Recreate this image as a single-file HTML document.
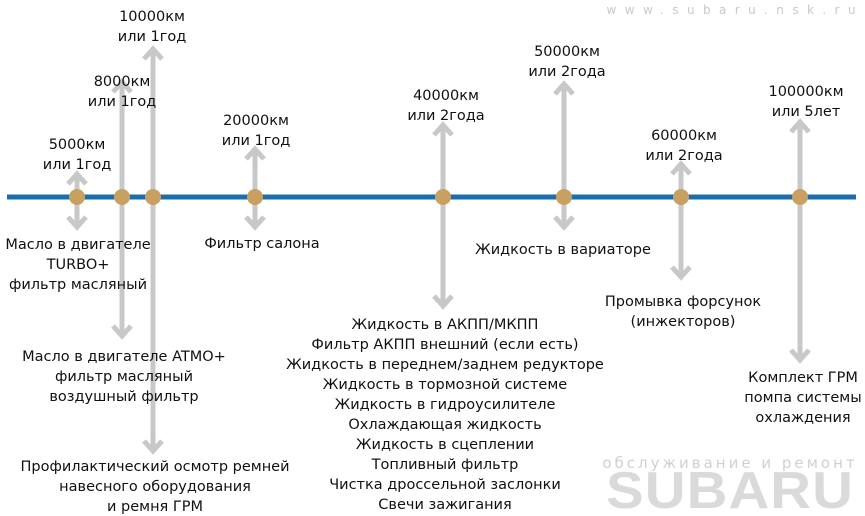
<!DOCTYPE html>
<html><head><meta charset="utf-8"><style>
html,body{margin:0;padding:0;background:#fff;}
svg{display:block}
text{font-family:"DejaVu Sans","Liberation Sans",sans-serif;font-size:14.5px;fill:#111;text-anchor:middle}
</style></head><body>
<svg width="865" height="516" viewBox="0 0 865 516" xmlns="http://www.w3.org/2000/svg">
<text x="731" y="14" style="font-size:12px;fill:#c8c8c8" textLength="249" lengthAdjust="spacing">www.subaru.nsk.ru</text>
<text x="730" y="468" style="font-size:15px;fill:#d0d0d0;letter-spacing:3px">обслуживание и ремонт</text>
<text x="730" y="508" style="font-family:'Liberation Sans',sans-serif;font-size:52px;font-weight:bold;fill:#dadada;letter-spacing:1px" textLength="248" lengthAdjust="spacingAndGlyphs">SUBARU</text>
<g stroke="#c8c8c8" stroke-width="5" fill="none" stroke-linecap="butt">
<path d="M77 197V174M68 184L77 174L86 184"/>
<path d="M122 197V82M113 92L122 82L131 92"/>
<path d="M153 197V49M144 59L153 49L162 59"/>
<path d="M255 197V149M246 159L255 149L264 159"/>
<path d="M443 197V125M434 135L443 125L452 135"/>
<path d="M564 197V84M555 94L564 84L573 94"/>
<path d="M681 197V164M672 174L681 164L690 174"/>
<path d="M800 197V122M791 132L800 122L809 132"/>
<path d="M77 197V227M68 217L77 227L86 217"/>
<path d="M122 197V336M113 326L122 336L131 326"/>
<path d="M153 197V451M144 441L153 451L162 441"/>
<path d="M255 197V227M246 217L255 227L264 217"/>
<path d="M443 197V306M434 296L443 306L452 296"/>
<path d="M564 197V227M555 217L564 227L573 217"/>
<path d="M681 197V277M672 267L681 277L690 267"/>
<path d="M800 197V360M791 350L800 360L809 350"/>
</g>
<line x1="7" y1="197" x2="856" y2="197" stroke="#1a6eae" stroke-width="5"/>
<g fill="#c8a060">
<circle cx="77" cy="197" r="8"/><circle cx="122" cy="197" r="8"/><circle cx="153" cy="197" r="8"/><circle cx="255" cy="197" r="8"/><circle cx="443" cy="197" r="8"/><circle cx="564" cy="197" r="8"/><circle cx="681" cy="197" r="8"/><circle cx="800" cy="197" r="8"/>
</g>
<text x="77" y="149">5000км</text><text x="77" y="169">или 1год</text>
<text x="122" y="86">8000км</text><text x="122" y="106">или 1год</text>
<text x="152" y="21">10000км</text><text x="152" y="41">или 1год</text>
<text x="256" y="125">20000км</text><text x="256" y="145">или 1год</text>
<text x="446" y="100">40000км</text><text x="446" y="120">или 2года</text>
<text x="567" y="56">50000км</text><text x="567" y="76">или 2года</text>
<text x="684" y="140">60000км</text><text x="684" y="160">или 2года</text>
<text x="806" y="96">100000км</text><text x="806" y="116">или 5лет</text>

<text x="78" y="249">Масло в двигателе</text><text x="78" y="269">TURBO+</text><text x="78" y="289">фильтр масляный</text>
<text x="262" y="248">Фильтр салона</text>
<text x="563" y="254">Жидкость в вариаторе</text>
<text x="683" y="306">Промывка форсунок</text><text x="683" y="326">(инжекторов)</text>
<text x="124" y="361">Масло в двигателе ATMO+</text><text x="124" y="381">фильтр масляный</text><text x="124" y="401">воздушный фильтр</text>
<text x="155" y="471">Профилактический осмотр ремней</text><text x="155" y="491">навесного оборудования</text><text x="155" y="511">и ремня ГРМ</text>
<text x="803" y="382">Комплект ГРМ</text><text x="803" y="402">помпа системы</text><text x="803" y="422">охлаждения</text>
<text x="445" y="329">Жидкость в АКПП/МКПП</text>
<text x="445" y="349">Фильтр АКПП внешний (если есть)</text>
<text x="445" y="369">Жидкость в переднем/заднем редукторе</text>
<text x="445" y="389">Жидкость в тормозной системе</text>
<text x="445" y="409">Жидкость в гидроусилителе</text>
<text x="445" y="429">Охлаждающая жидкость</text>
<text x="445" y="449">Жидкость в сцеплении</text>
<text x="445" y="469">Топливный фильтр</text>
<text x="445" y="489">Чистка дроссельной заслонки</text>
<text x="445" y="509">Свечи зажигания</text>
</svg>
</body></html>
